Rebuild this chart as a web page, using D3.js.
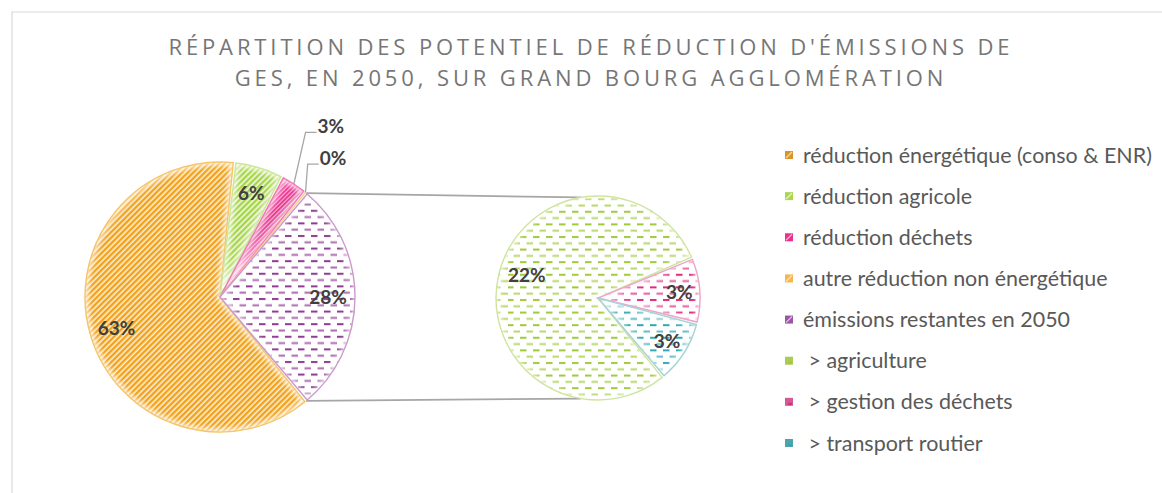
<!DOCTYPE html>
<html>
<head>
<meta charset="utf-8">
<script src="https://cdn.jsdelivr.net/npm/d3@7"></script>
<style>
  body { margin: 0; background: #fff; }
  svg { display: block; font-family: Lato, "Open Sans", sans-serif; }
</style>
</head>
<body>
<div id="chart"></div>
<script>
// Chart data
var titleLines = ["RÉPARTITION DES POTENTIEL DE RÉDUCTION D'ÉMISSIONS DE", "GES, EN 2050, SUR GRAND BOURG AGGLOMÉRATION"];
var mainLabels = ["réduction énergétique (conso & ENR)", "réduction agricole", "réduction déchets", "autre réduction non énergétique", "émissions restantes en 2050"];
var mainValues = [62.8, 5.9, 3.2, 0.2];   // last slice of the main pie is the sum of the sub pie
var subLabels = [" > agriculture", " > gestion des déchets", " > transport routier"];
var subValues = [22.3, 2.9, 2.8];

var width = 1162, height = 493;

// Slice styles (pattern colour, background, outline)
var mainStyles = [
  { id: "p-ener", kind: "diag", color: "#F2A11A", bg: "#FDF0D8", line: "#F6C46A", legend: "#D89526" },
  { id: "p-agri", kind: "diag", color: "#A6D449", bg: "#F1F9E2", line: "#CBE79A", legend: "#A9D64E" },
  { id: "p-dech", kind: "diagDense", color: "#EC2F8C", bg: "#F7B9D8", line: "#F07AB5", legend: "#EC2F8C" },
  { id: "p-autre", kind: "diag", color: "#F8B54A", bg: "#FFF8EC", line: "#F8CF8A", legend: "#F8B54A" },
  { id: "p-rest", kind: "dash", color: "#8E3A92", bg: "#FFFFFF", line: "#C99BCB", legend: "#9A55A4" }
];
var subStyles = [
  { id: "s-agri", kind: "dash", color: "#9DCB3A", bg: "#FFFFFF", line: "#CFE4A0", legend: "#A8CC55" },
  { id: "s-dech", kind: "dash", color: "#E0267E", bg: "#FFFFFF", line: "#EBA6C8", legend: "#D45A97" },
  { id: "s-trans", kind: "dash", color: "#2EA7B5", bg: "#FFFFFF", line: "#A6D3D6", legend: "#4FA3A9" }
];

var svg = d3.select("#chart").append("svg")
  .attr("width", width)
  .attr("height", height);

var defs = svg.append("defs");

// Build the pattern fills
function addPattern(st) {
  var p;
  if (st.kind === "dash") {
    p = defs.append("pattern").attr("id", st.id)
      .attr("patternUnits", "userSpaceOnUse")
      .attr("width", 13).attr("height", 12.6);
    p.append("rect").attr("width", 13).attr("height", 12.6).attr("fill", st.bg);
    p.append("rect").attr("x", 0).attr("y", 1).attr("width", 6.5).attr("height", 2).attr("fill", st.color);
    p.append("rect").attr("x", 6.5).attr("y", 7.3).attr("width", 6.5).attr("height", 2).attr("fill", st.color).attr("opacity", 0.75);
  } else {
    var per = st.kind === "diagDense" ? 3 : 4;
    p = defs.append("pattern").attr("id", st.id)
      .attr("patternUnits", "userSpaceOnUse")
      .attr("width", per).attr("height", per)
      .attr("patternTransform", "rotate(45)");
    p.append("rect").attr("width", per).attr("height", per).attr("fill", st.bg);
    p.append("rect").attr("width", per * 0.6).attr("height", per).attr("fill", st.color);
  }
}
mainStyles.forEach(addPattern);
subStyles.forEach(addPattern);

// Soft inner edge
var glow = defs.append("filter").attr("id", "glow")
  .attr("x", "-20%").attr("y", "-20%").attr("width", "140%").attr("height", "140%");
glow.append("feGaussianBlur").attr("stdDeviation", 2.5);

// Border of the chart area
svg.append("path")
  .attr("d", "M12," + height + "V12H" + width)
  .attr("fill", "none")
  .attr("stroke", "#D9D9D9")
  .attr("stroke-width", 1.2);

// Title
var titleG = svg.append("g").attr("class", "title")
  .attr("fill", "#767676")
  .style("font-family", "'Open Sans', sans-serif")
  .attr("font-size", 22)
  .attr("text-anchor", "middle");
var titleTexts = titleG.selectAll("text")
  .data(titleLines)
  .enter().append("text")
  .attr("x", 589)
  .attr("y", (d, i) => 55 + i * 31)
  .text(d => d);
// spread the letters to the reference width
var t0 = titleTexts.nodes()[0];
var spacing = (845 - t0.getComputedTextLength()) / titleLines[0].length;
titleTexts.attr("letter-spacing", spacing).attr("x", 589 + spacing / 2);

// Pie geometry
var c1 = { x: 220, y: 297 }, r1 = 135;
var c2 = { x: 598, y: 298 }, r2 = 102;

var restValue = d3.sum(subValues);
var allMain = mainValues.concat([restValue]);
var total = d3.sum(allMain);

// the "rest" slice is centred on the right, facing the second pie
var restAngle = restValue / total * 2 * Math.PI;
var start = Math.PI / 2 + restAngle / 2;

var pie = d3.pie().sort(null).startAngle(start).endAngle(start + 2 * Math.PI);
var mainArcs = pie(allMain);
var subArcs = pie(subValues);

var arc1 = d3.arc().innerRadius(0).outerRadius(r1).padAngle(0.02);
var arc2 = d3.arc().innerRadius(0).outerRadius(r2).padAngle(0.025);

function polar(c, r, a) {
  return [c.x + r * Math.sin(a), c.y - r * Math.cos(a)];
}
function pct(v) { return Math.round(v / total * 100) + "%"; }

// Connector lines between the two pies
var restArc = mainArcs[mainArcs.length - 1];
var linesG = svg.append("g").attr("class", "connectors")
  .attr("stroke", "#A6A6A6").attr("stroke-width", 1.8).attr("fill", "none");
linesG.append("line")
  .attr("x1", polar(c1, r1, restArc.startAngle)[0]).attr("y1", polar(c1, r1, restArc.startAngle)[1])
  .attr("x2", polar(c2, r2, -0.17)[0]).attr("y2", polar(c2, r2, -0.17)[1]);
linesG.append("line")
  .attr("x1", polar(c1, r1, restArc.endAngle)[0]).attr("y1", polar(c1, r1, restArc.endAngle)[1])
  .attr("x2", polar(c2, r2, Math.PI + 0.17)[0]).attr("y2", polar(c2, r2, Math.PI + 0.17)[1]);

function drawPie(g, arcs, arcGen, styles, prefix) {
  var slices = g.selectAll(".slice")
    .data(arcs)
    .enter().append("g")
    .attr("class", "slice");

  slices.append("clipPath")
    .attr("id", (d, i) => prefix + "clip" + i)
    .append("path")
    .attr("d", arcGen);

  slices.append("path")
    .attr("d", arcGen)
    .attr("fill", (d, i) => "url(#" + styles[i].id + ")");

  // white soft edge inside each slice
  slices.append("path")
    .attr("d", arcGen)
    .attr("fill", "none")
    .attr("stroke", "#FFFFFF")
    .attr("stroke-width", 6)
    .attr("stroke-opacity", 0.8)
    .attr("filter", "url(#glow)")
    .attr("clip-path", (d, i) => "url(#" + prefix + "clip" + i + ")");

  slices.append("path")
    .attr("d", arcGen)
    .attr("fill", "none")
    .attr("stroke", (d, i) => styles[i].line)
    .attr("stroke-width", 1.4);
}

var pie1 = svg.append("g").attr("transform", "translate(" + c1.x + "," + c1.y + ")");
drawPie(pie1, mainArcs, arc1, mainStyles, "m");
var pie2 = svg.append("g").attr("transform", "translate(" + c2.x + "," + c2.y + ")");
drawPie(pie2, subArcs, arc2, subStyles, "s");

// Data labels
var outsideLabels = { 2: 1.51, 3: 1.33 };
var labelG = svg.append("g").attr("class", "labels")
  .attr("font-size", 19).attr("font-weight", "bold").attr("fill", "#404040");

mainArcs.forEach(function(d, i) {
  var mid = (d.startAngle + d.endAngle) / 2;
  if (outsideLabels[i]) {
    var L = polar(c1, r1 * outsideLabels[i], mid);
    var E = polar(c1, r1, mid);
    labelG.append("polyline")
      .attr("points", [E, [L[0] - 26, L[1] + 6], [L[0] - 15, L[1] + 6]].map(p => p.join(",")).join(" "))
      .attr("fill", "none").attr("stroke", "#A6A6A6").attr("stroke-width", 1.3);
    labelG.append("text")
      .attr("x", L[0] - 14).attr("y", L[1])
      .attr("dy", "0.35em")
      .text(pct(d.value));
  } else {
    var p = polar(c1, r1 * 0.8, mid);
    labelG.append("text")
      .attr("x", p[0]).attr("y", p[1])
      .attr("dy", "0.35em").attr("text-anchor", "middle")
      .text(pct(d.value));
  }
});
subArcs.forEach(function(d) {
  var mid = (d.startAngle + d.endAngle) / 2;
  var p = polar(c2, r2 * 0.8, mid);
  labelG.append("text")
    .attr("x", p[0] + (Math.sin(mid) < -0.5 ? 8 : 0)).attr("y", p[1] - (Math.sin(mid) < -0.5 ? 3 : 0))
    .attr("dy", "0.35em").attr("text-anchor", "middle")
    .text(pct(d.value));
});

// Legend
var legendItems = mainLabels.map((l, i) => ({ label: l, style: mainStyles[i] }))
  .concat(subLabels.map((l, i) => ({ label: l, style: subStyles[i] })));

var legendY = d3.scalePoint()
  .domain(d3.range(legendItems.length))
  .range([155, 443]);

var legend = svg.append("g").attr("class", "legend")
  .attr("font-size", 19).attr("fill", "#595959");

var items = legend.selectAll(".item")
  .data(legendItems)
  .enter().append("g")
  .attr("class", "item")
  .attr("transform", (d, i) => "translate(785," + legendY(i) + ")");

items.append("rect")
  .attr("x", 0).attr("y", -4)
  .attr("width", 8).attr("height", 8)
  .attr("fill", d => d.style.legend);
items.filter((d, i) => i < mainLabels.length).append("line")
  .attr("x1", 1).attr("y1", 3).attr("x2", 7).attr("y2", -3)
  .attr("stroke", "#FFFFFF").attr("stroke-opacity", 0.6).attr("stroke-width", 1.5);
items.filter((d, i) => i >= mainLabels.length).append("rect")
  .attr("x", 3).attr("y", 1).attr("width", 4).attr("height", 2)
  .attr("fill", d => d.style.color);

var legendTexts = items.append("text")
  .attr("x", 18).attr("y", 0)
  .attr("dy", "0.35em")
  .attr("xml:space", "preserve")
  .style("white-space", "pre")
  .text(d => d.label);

// fit font size to the reference legend width
var w0 = legendTexts.nodes()[0].getComputedTextLength();
legend.attr("font-size", 19 * 349 / w0);
</script>
</body>
</html>
